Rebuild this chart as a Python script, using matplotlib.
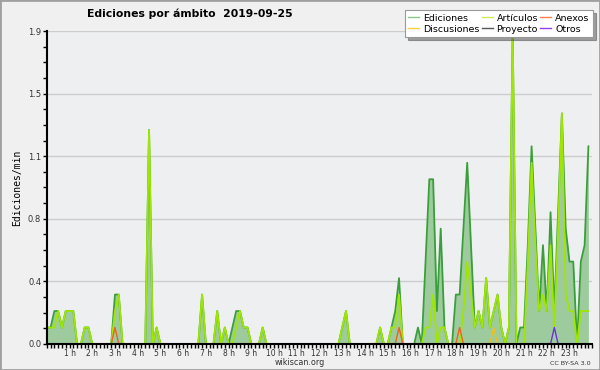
import matplotlib
matplotlib.use("Agg")
import matplotlib.pyplot as plt
from matplotlib.lines import Line2D
from matplotlib.patches import Rectangle
import numpy as np

# edits per minute, one value per 10-minute bin (6 per hour)
ediciones = [
    0.1, 0.1, 0.2, 0.2, 0.1, 0.2,   # 0 h
    0.2, 0.2, 0.0, 0.0, 0.1, 0.1,   # 1 h
    0.0, 0.0, 0.0, 0.0, 0.0, 0.0,   # 2 h
    0.3, 0.3, 0.0, 0.0, 0.0, 0.0,   # 3 h
    0.0, 0.0, 0.0, 1.3, 0.0, 0.1,   # 4 h
    0.0, 0.0, 0.0, 0.0, 0.0, 0.0,   # 5 h
    0.0, 0.0, 0.0, 0.0, 0.0, 0.3,   # 6 h
    0.0, 0.0, 0.0, 0.2, 0.0, 0.1,   # 7 h
    0.0, 0.1, 0.2, 0.2, 0.1, 0.1,   # 8 h
    0.0, 0.0, 0.0, 0.1, 0.0, 0.0,   # 9 h
    0.0, 0.0, 0.0, 0.0, 0.0, 0.0,   # 10 h
    0.0, 0.0, 0.0, 0.0, 0.0, 0.0,   # 11 h
    0.0, 0.0, 0.0, 0.0, 0.0, 0.0,   # 12 h
    0.1, 0.2, 0.0, 0.0, 0.0, 0.0,   # 13 h
    0.0, 0.0, 0.0, 0.0, 0.1, 0.0,   # 14 h
    0.0, 0.1, 0.2, 0.4, 0.0, 0.0,   # 15 h
    0.0, 0.0, 0.1, 0.0, 0.5, 1.0,   # 16 h
    1.0, 0.2, 0.7, 0.1, 0.0, 0.0,   # 17 h
    0.3, 0.3, 0.7, 1.1, 0.6, 0.1,   # 18 h
    0.2, 0.1, 0.4, 0.1, 0.2, 0.3,   # 19 h
    0.1, 0.0, 0.1, 1.9, 0.0, 0.1,   # 20 h
    0.1, 0.6, 1.2, 0.7, 0.2, 0.6,   # 21 h
    0.2, 0.8, 0.2, 0.8, 1.4, 0.7,   # 22 h
    0.5, 0.5, 0.0, 0.5, 0.6, 1.2,   # 23 h
]

articulos = [
    0.1, 0.1, 0.1, 0.2, 0.1, 0.2,
    0.2, 0.2, 0.0, 0.0, 0.1, 0.1,
    0.0, 0.0, 0.0, 0.0, 0.0, 0.0,
    0.2, 0.3, 0.0, 0.0, 0.0, 0.0,
    0.0, 0.0, 0.0, 1.3, 0.0, 0.1,
    0.0, 0.0, 0.0, 0.0, 0.0, 0.0,
    0.0, 0.0, 0.0, 0.0, 0.0, 0.3,
    0.0, 0.0, 0.0, 0.2, 0.0, 0.1,
    0.0, 0.0, 0.1, 0.2, 0.1, 0.1,
    0.0, 0.0, 0.0, 0.1, 0.0, 0.0,
    0.0, 0.0, 0.0, 0.0, 0.0, 0.0,
    0.0, 0.0, 0.0, 0.0, 0.0, 0.0,
    0.0, 0.0, 0.0, 0.0, 0.0, 0.0,
    0.1, 0.2, 0.0, 0.0, 0.0, 0.0,
    0.0, 0.0, 0.0, 0.0, 0.1, 0.0,
    0.0, 0.1, 0.1, 0.3, 0.0, 0.0,
    0.0, 0.0, 0.0, 0.0, 0.1, 0.1,
    0.3, 0.0, 0.1, 0.1, 0.0, 0.0,
    0.0, 0.0, 0.2, 0.5, 0.3, 0.1,
    0.2, 0.1, 0.4, 0.1, 0.2, 0.3,
    0.1, 0.0, 0.1, 1.9, 0.0, 0.0,
    0.0, 0.5, 1.1, 0.6, 0.2, 0.3,
    0.2, 0.6, 0.1, 0.7, 1.4, 0.3,
    0.2, 0.2, 0.0, 0.2, 0.2, 0.2,
]

# sparse namespaces: bin start "hh:mm" -> edits per minute
anexos = {"03:00": 0.1, "15:30": 0.1, "18:10": 0.1}
discusiones = {"19:40": 0.1}
proyecto = {}
otros = {"22:20": 0.1}

hour_labels = ["%d h" % h for h in range(1, 24)]
y_ticks = [0.0, 0.38, 0.76, 1.14, 1.52, 1.9]
y_labels = ["0.0", "0.4", "0.8", "1.1", "1.5", "1.9"]

t = np.arange(len(ediciones)) / 6.0


def full_series(sparse):
    vals = np.zeros(len(ediciones))
    for key, v in sparse.items():
        hh, mm = key.split(":")
        vals[int(hh) * 6 + int(mm) // 10] = v
    return vals


fig = plt.figure(figsize=(6, 3.7), dpi=100, facecolor="#f0f0f0")
ax = fig.add_axes([0.078, 0.0703, 0.909, 0.8459])
ax.set_facecolor("#eeeff1")

# filled total
ax.fill_between(t, ediciones, color="#9ecb9e", lw=0, zorder=2)
ax.plot(t, ediciones, color="#3a9f3a", lw=1.3, zorder=3)
ax.plot(t, articulos, color="#9fe600", lw=1.3, zorder=4)
ax.plot(t, full_series(proyecto), color="#555555", lw=1.0, zorder=4)
ax.plot(t, full_series(anexos), color="#f06020", lw=1.0, zorder=5)
ax.plot(t, full_series(discusiones), color="#f0c020", lw=1.0, zorder=5)
ax.plot(t, full_series(otros), color="#7030e0", lw=1.0, zorder=5)

ax.set_xlim(0, 24)
ax.set_ylim(0, 1.9)

ax.set_xticks(range(1, 24))
ax.set_xticklabels(hour_labels)
ax.set_xticks(np.arange(0, 24.01, 1 / 6.0), minor=True)
ax.set_yticks(y_ticks)
ax.set_yticklabels(y_labels)
ax.set_yticks(np.arange(0, 1.91, 0.095), minor=True)

ax.tick_params(axis="both", which="major", direction="out", length=3, width=1,
               colors="black", labelcolor="#333333", pad=1)
ax.tick_params(axis="both", which="minor", direction="out", length=3, width=1)
ax.tick_params(axis="x", labelsize=5.5, pad=0.5)
ax.tick_params(axis="y", labelsize=6)

ax.yaxis.grid(True, color="#cccccc", lw=1)
ax.set_axisbelow(True)
for s in ["top", "right"]:
    ax.spines[s].set_visible(False)
for s in ["left", "bottom"]:
    ax.spines[s].set_linewidth(1.5)
    ax.spines[s].set_zorder(6)

ax.set_ylabel("Ediciones/min", family="DejaVu Sans Mono", fontsize=7, labelpad=4)

fig.text(0.317, 0.962, "Ediciones por ámbito  2019-09-25", ha="center", va="center",
         fontsize=7.8, fontweight="bold")
fig.text(0.5, 0.019, "wikiscan.org", ha="center", va="center", fontsize=5.8, color="#333333")
fig.text(0.985, 0.017, "CC BY-SA 3.0", ha="right", va="center", fontsize=4.6, color="#333333")

handles = [
    Line2D([], [], color="#88cc88", lw=1),
    Line2D([], [], color="#ffd040", lw=1),
    Line2D([], [], color="#ccee55", lw=1),
    Line2D([], [], color="#555555", lw=1),
    Line2D([], [], color="#ff7f50", lw=1),
    Line2D([], [], color="#9040f0", lw=1),
]
names = ["Ediciones", "Discusiones", "Artículos", "Proyecto", "Anexos", "Otros"]
leg = fig.legend(handles, names, ncol=3, loc="upper right", bbox_to_anchor=(0.988, 0.972),
                 fontsize=6.8, frameon=True, fancybox=False, shadow=True,
                 handlelength=1.2, handletextpad=0.4, columnspacing=0.2,
                 labelspacing=0.2, borderpad=0.35, borderaxespad=0.0)
leg.get_frame().set_edgecolor("#999999")
leg.get_frame().set_linewidth(0.8)

fig.add_artist(Rectangle((0, 0), 1, 1, transform=fig.transFigure, fill=False,
                         edgecolor="#a0a0a0", lw=2))

fig.savefig("out.png", dpi=100, facecolor=fig.get_facecolor())
